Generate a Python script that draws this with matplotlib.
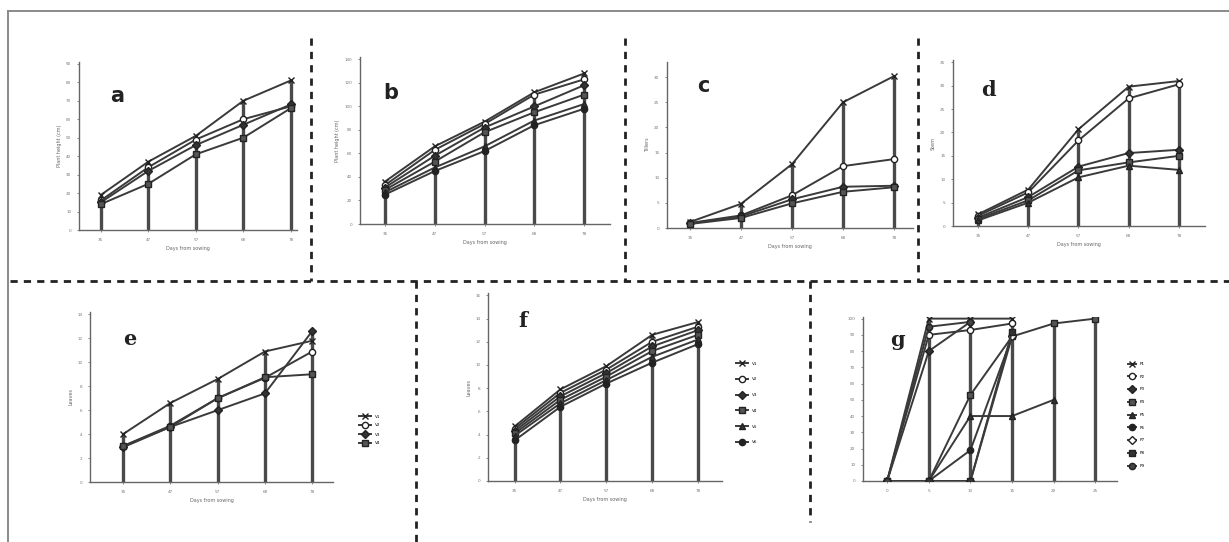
import numpy as np
import matplotlib
matplotlib.use("Agg")
import matplotlib.pyplot as plt
from matplotlib.lines import Line2D

W, H = 1229, 542

# x tick labels (days from sowing)
days = ['35', '47', '57', '68', '78']
days_g = [0, 5, 10, 15, 20, 25]

# panel a - plant height
height_a = [[19, 37, 51, 70, 81],
             [16, 34, 49, 60, 67],
             [15, 32, 46, 57, 68],
             [14, 25, 41, 50, 66]]
# panel b - plant height
height_b = [[36, 66, 87, 112, 128],
            [33, 63, 85, 110, 123],
            [31, 58, 82, 100, 118],
            [29, 53, 78, 95, 110],
            [27, 48, 66, 88, 102],
            [25, 45, 62, 84, 98]]
# panel c
tillers_c = [[1.2, 4.8, 12.7, 25.0, 30.2],
             [1.0, 2.5, 6.5, 12.3, 13.7],
             [0.9, 2.3, 5.7, 8.2, 8.4],
             [0.8, 2.0, 4.9, 7.2, 8.1]]
# panel d
stem_d = [[2.5, 7.8, 20.7, 29.8, 31.0],
          [2.2, 7.2, 18.3, 27.3, 30.3],
          [1.8, 6.2, 12.7, 15.6, 16.3],
          [1.5, 5.5, 11.9, 13.6, 15.0],
          [1.2, 5.0, 10.4, 12.9, 12.0]]
# panel e
leaves_e = [[4.0, 6.6, 8.6, 10.9, 11.8],
            [3.0, 4.7, 7.0, 8.7, 10.9],
            [2.9, 4.6, 6.0, 7.4, 12.6],
            [3.0, 4.6, 7.0, 8.75, 9.0]]
labels_e = ['V1', 'V2', 'V3', 'V4']
# panel f
leaves_f = [[4.7, 7.9, 9.9, 12.6, 13.7],
            [4.5, 7.6, 9.6, 12.0, 13.3],
            [4.3, 7.3, 9.3, 11.6, 13.0],
            [4.1, 7.0, 9.0, 11.2, 12.6],
            [3.9, 6.7, 8.7, 10.7, 12.2],
            [3.5, 6.4, 8.4, 10.2, 11.8]]
labels_f = ['V1', 'V2', 'V3', 'V4', 'V5', 'V6']
# panel g - germination (%)
nan = np.nan
germ_g = [[0, 100, 100, 100, nan, nan],
          [0, 90, 93, 97, nan, nan],
          [0, 80, 98, nan, nan, nan],
          [0, 0, 53, 89, 97, 100],
          [0, 0, 40, 40, 50, nan],
          [0, 0, 19, 89, nan, nan],
          [0, 0, 0, 89, nan, nan],
          [0, 0, 0, 92, nan, nan],
          [0, 95, 98, nan, nan, nan]]
labels_g = ['P1', 'P2', 'P3', 'P4', 'P5', 'P6', 'P7', 'P8', 'P9']

markers = ['x', 'o', 'D', 's', '^', 'o', 'D', 's', 'o']
faces = ['#333', 'white', '#333', '#555', '#333', '#222', 'white', '#333', '#444']

fig = plt.figure(figsize=(W / 100, H / 100), dpi=100)


def make_ax(left, top, right, bottom):
    return fig.add_axes([left / W, 1 - bottom / H, (right - left) / W, (bottom - top) / H])


def draw(ax, x, series, xlim, ylim, yticks, xticklabels, ylabel, letter, lpos, lfam):
    for i, s in enumerate(series):
        ax.plot(x, s, color='#3a3a3a', lw=1.4, marker=markers[i], ms=4.5,
                mfc=faces[i], mec='#222', mew=1.0, zorder=3)
    top = np.nanmax(np.array(series, dtype=float), axis=0)
    ax.vlines(x, 0, top, color='#4a4a4a', lw=2.4, zorder=2)
    ax.set_xlim(*xlim)
    ax.set_ylim(*ylim)
    ax.set_xticks(x)
    ax.set_xticklabels(xticklabels)
    ax.set_yticks(yticks)
    ax.tick_params(labelsize=3, colors='#777', length=1.5, width=0.6, pad=4)
    for sp in ['top', 'right']:
        ax.spines[sp].set_visible(False)
    for sp in ['left', 'bottom']:
        ax.spines[sp].set_color('#666')
        ax.spines[sp].set_linewidth(1.0)
    ax.set_facecolor('none')
    if len(x) == 5:
        ax.set_xlabel('Days from sowing', fontsize=3.5, color='#666', labelpad=3)
    ax.set_ylabel(ylabel, fontsize=3.5, color='#666', labelpad=3)
    fig.text(lpos[0] / W, 1 - lpos[1] / H, letter, fontsize=15, fontweight='bold',
             family=lfam, color='#222', ha='center', va='center')


x5 = np.arange(5)

ax = make_ax(79, 62, 297, 230)
draw(ax, x5, height_a, (-0.46, 4.13), (0, 91), np.arange(0, 91, 10), days,
     'Plant height (cm)', 'a', (117, 96), 'DejaVu Sans')

ax = make_ax(360, 57, 610, 224)
draw(ax, x5, height_b, (-0.5, 4.52), (0, 142), np.arange(0, 141, 20), days,
     'Plant height (cm)', 'b', (391, 93), 'DejaVu Sans')

ax = make_ax(667, 62, 913, 228)
draw(ax, x5, tillers_c, (-0.45, 4.37), (0, 33), np.arange(0, 31, 5), days,
     'Tillers', 'c', (703, 86), 'DejaVu Sans')

ax = make_ax(953, 60, 1205, 226)
draw(ax, x5, stem_d, (-0.5, 4.52), (0, 35.5), np.arange(0, 36, 5), days,
     'Stem', 'd', (988, 90), 'DejaVu Serif')

ax = make_ax(90, 312, 333, 482)
draw(ax, x5, leaves_e, (-0.7, 4.44), (0, 14.2), np.arange(0, 15, 2), days,
     'Leaves', 'e', (130, 339), 'DejaVu Serif')
ax.legend(labels_e, loc='center left', bbox_to_anchor=(355 / W, 1 - 430 / H),
          bbox_transform=fig.transFigure, frameon=False, fontsize=3,
          handlelength=3, labelspacing=1.2)

ax = make_ax(488, 293, 722, 481)
draw(ax, x5, leaves_f, (-0.58, 4.52), (0, 16.2), np.arange(0, 17, 2), days,
     'Leaves', 'f', (523, 321), 'DejaVu Serif')
ax.legend(labels_f, loc='center left', bbox_to_anchor=(732 / W, 1 - 403 / H),
          bbox_transform=fig.transFigure, frameon=False, fontsize=3,
          handlelength=3, labelspacing=2.8)

ax = make_ax(863, 317, 1117, 481)
draw(ax, days_g, germ_g, (-2.9, 27.6), (0, 101), np.arange(0, 101, 10),
     [str(d) for d in days_g], '', 'g', (897, 340), 'DejaVu Serif')
ax.legend(labels_g, loc='center left', bbox_to_anchor=(1124 / W, 1 - 415 / H),
          bbox_transform=fig.transFigure, frameon=False, fontsize=3,
          handlelength=2, labelspacing=2.1)


def fline(x0, y0, x1, y1, **kw):
    fig.add_artist(Line2D([x0 / W, x1 / W], [1 - y0 / H, 1 - y1 / H],
                          transform=fig.transFigure, **kw))


# outer border
fline(8, 11, W, 11, color='#8a8a8a', lw=1.4)
fline(8, 11, 8, H, color='#8a8a8a', lw=1.4)

# dashed separators
dash = dict(color='#222', lw=2.0, linestyle=(0, (2.6, 2.2)))
fline(10, 281, W, 281, **dash)
fline(311, 38, 311, 281, **dash)
fline(625, 38, 625, 281, **dash)
fline(918, 38, 918, 281, **dash)
fline(416, 281, 416, H, **dash)
fline(810, 281, 810, 522, **dash)

fig.savefig('out.png', dpi=100, facecolor='white')
